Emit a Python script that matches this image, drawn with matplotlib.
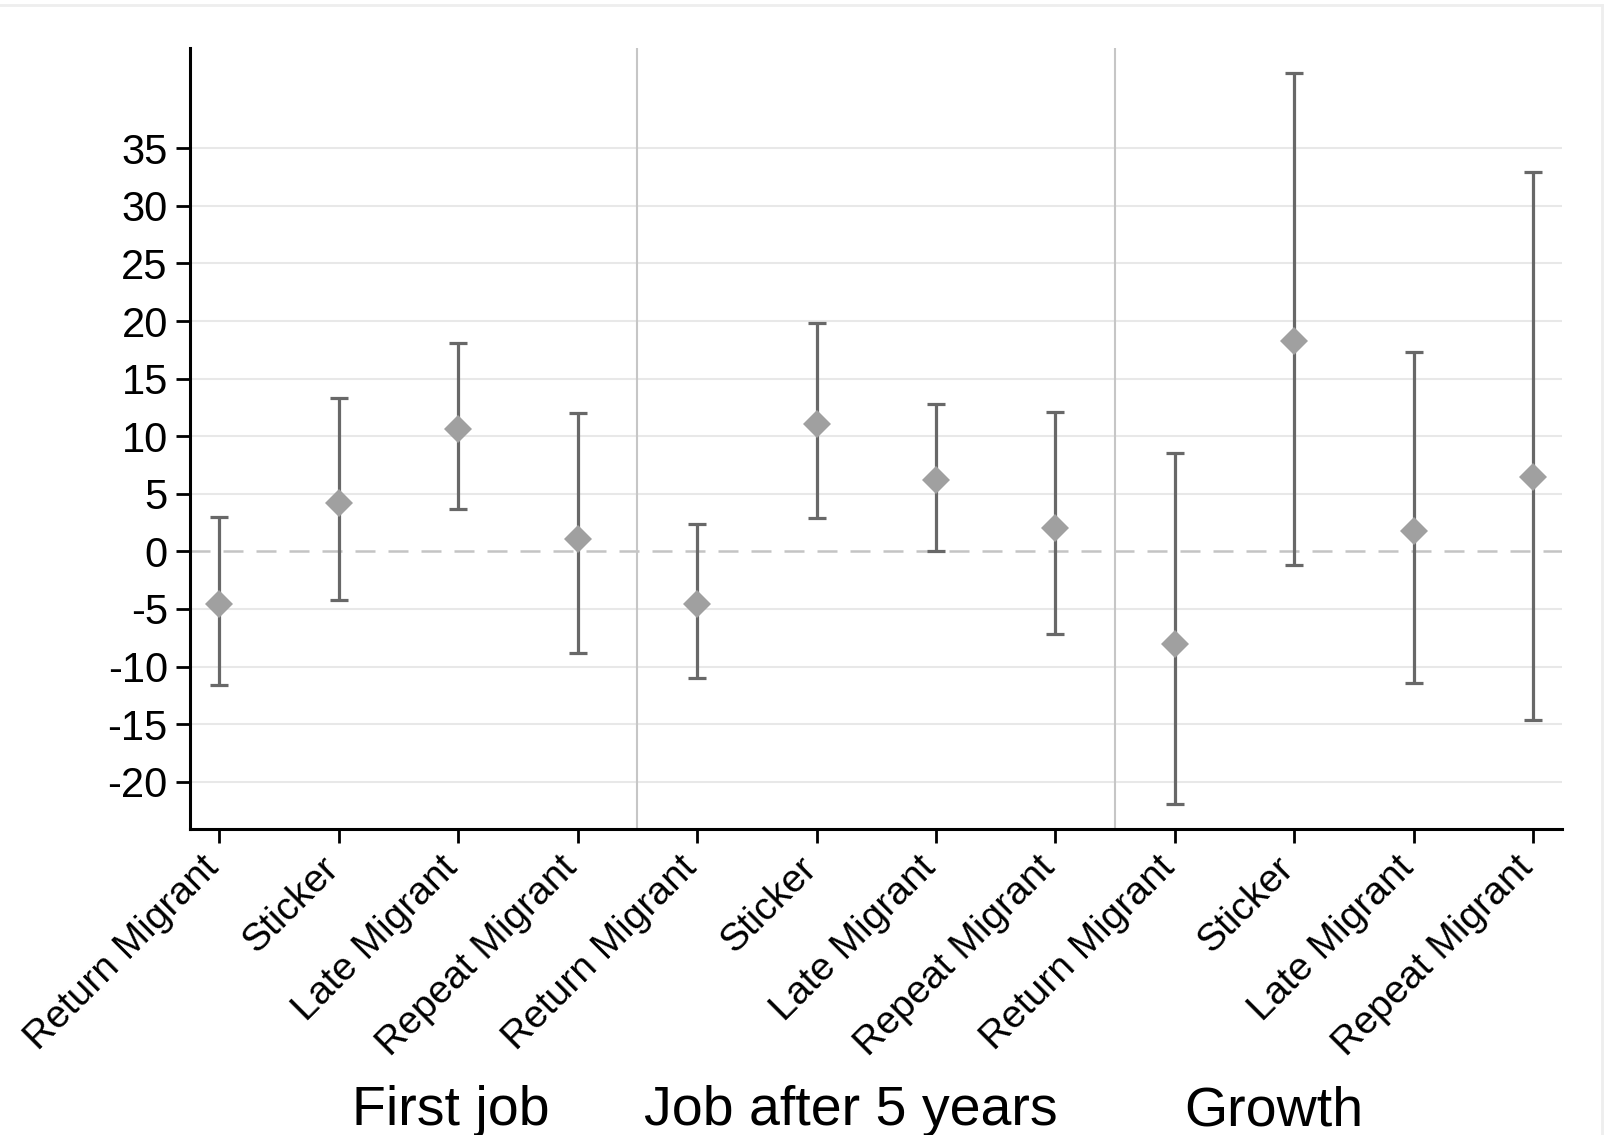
import numpy as np
import matplotlib
matplotlib.use("Agg")
import matplotlib.pyplot as plt
from matplotlib.lines import Line2D
from matplotlib.transforms import ScaledTranslation

plt.rcParams['font.family'] = ['Liberation Sans', 'DejaVu Sans']

# ==================================================
# DATA
# ==================================================

CATEGORIES = ["Return Migrant", "Sticker", "Late Migrant", "Repeat Migrant"]
GROUPS = ["First job", "Job after 5 years", "Growth"]

# point estimates and 95% CI bounds, per group
first_est = [-4.6, 4.2, 10.6, 1.1]
first_lo = [-11.6, -4.2, 3.7, -8.8]
first_hi = [3.0, 13.3, 18.1, 12.0]

later_est = [-4.6, 11.1, 6.2, 2.0]
later_lo = [-11.0, 2.9, 0.0, -7.2]
later_hi = [2.4, 19.8, 12.8, 12.1]

growth_est = [-8.0, 18.3, 1.8, 6.5]
growth_lo = [-21.9, -1.2, -11.4, -14.6]
growth_hi = [8.5, 41.5, 17.3, 32.9]

YTICKS = [-20, -15, -10, -5, 0, 5, 10, 15, 20, 25, 30, 35]

# ==================================================
# PLOT
# ==================================================

est = np.array(first_est + later_est + growth_est)
lo = np.array(first_lo + later_lo + growth_lo)
hi = np.array(first_hi + later_hi + growth_hi)
x = np.arange(1, len(est) + 1)
labels = CATEGORIES * len(GROUPS)

fig = plt.figure(figsize=(16.08, 11.35), dpi=100)
ax = fig.add_axes([0.1182, 0.2696, 0.853, 0.6881])

for yv in YTICKS:
    if yv != 0:
        ax.axhline(yv, color="#e8e8e8", linewidth=1.5, zorder=0)
ax.axhline(0, color="#c4c4c4", linewidth=1.8, linestyle=(0, (8, 5.2)), zorder=1)
for sep in [4.5, 8.5]:
    ax.axvline(sep, color="#c6c6c6", linewidth=1.5, zorder=1)

ax.errorbar(x, est, yerr=[est - lo, hi - est], fmt="none", ecolor="#686868",
            elinewidth=2.3, capsize=6.5, capthick=2.3, zorder=2)
ax.plot(x, est, linestyle="none", marker="D", markersize=14.5,
        color="#a0a0a0", markeredgewidth=0, zorder=3)

ax.set_xlim(0.754, 12.24)
ax.set_ylim(-24.1, 43.7)
ax.set_yticks(YTICKS)
ax.set_yticklabels([str(v) for v in YTICKS])
ax.set_xticks(x)
ax.set_xticklabels(labels, rotation=45, ha="right", va="top")

for side in ["top", "right"]:
    ax.spines[side].set_visible(False)
for side in ["left", "bottom"]:
    ax.spines[side].set_linewidth(2.2)
    ax.spines[side].set_color("black")
ax.tick_params(axis="both", length=10, width=2, colors="black")
ax.tick_params(axis="y", labelsize=30, pad=6)
ax.tick_params(axis="x", labelsize=28, pad=2)

# nudge rotated labels so their end sits just under the tick
shift = ScaledTranslation(5 / 72, -3 / 72, fig.dpi_scale_trans)
for lab in ax.get_xticklabels():
    lab.set_transform(lab.get_transform() + shift)

# group labels under the category labels
for gx, name in zip([0.2805, 0.529, 0.792], GROUPS):
    fig.text(gx, 10 / 1135, name, ha="center", va="baseline", fontsize=40)

# faint frame along top and right edge
fig.add_artist(Line2D([0, 0.9965], [0.9956, 0.9956], transform=fig.transFigure,
                      color="#eeeeee", linewidth=2))
fig.add_artist(Line2D([0.9965, 0.9965], [0, 0.9956], transform=fig.transFigure,
                      color="#eeeeee", linewidth=2))

fig.savefig("out.png", dpi=100)
plt.close(fig)
